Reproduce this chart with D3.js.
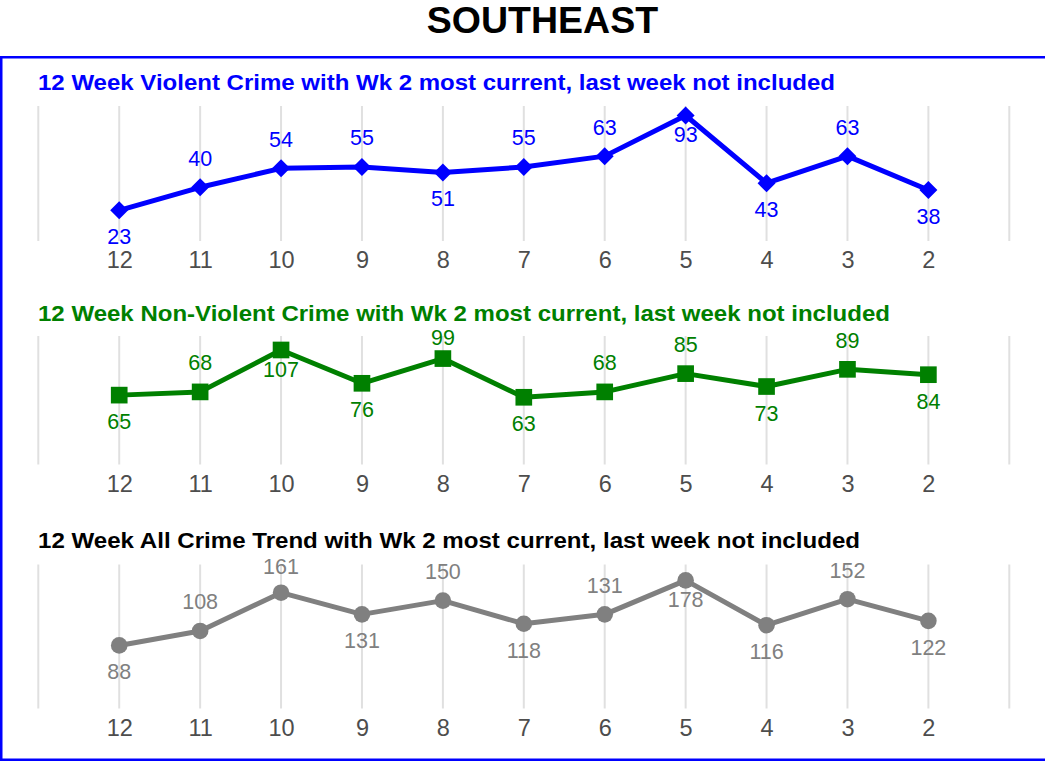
<!DOCTYPE html>
<html>
<head>
<meta charset="utf-8">
<script src="https://cdn.jsdelivr.net/npm/d3@7/dist/d3.min.js"></script>
<style>
  html, body { margin: 0; padding: 0; background: #fff; }
  svg { display: block; font-family: "Liberation Sans", Arial, sans-serif; }
</style>
</head>
<body>
<svg id="chart" width="1045" height="763"></svg>
<script>
const chartTitle = "SOUTHEAST";
const weeks = [12, 11, 10, 9, 8, 7, 6, 5, 4, 3, 2];
const gridWeeks = [13, 12, 11, 10, 9, 8, 7, 6, 5, 4, 3, 2, 1];
const violentTitle = "12 Week Violent Crime with Wk 2 most current, last week not included";
const violent = [23, 40, 54, 55, 51, 55, 63, 93, 43, 63, 38];
const nonViolentTitle = "12 Week Non-Violent Crime with Wk 2 most current, last week not included";
const nonViolent = [65, 68, 107, 76, 99, 63, 68, 85, 73, 89, 84];
const allTitle = "12 Week All Crime Trend with Wk 2 most current, last week not included";
const allCrime = [88, 108, 161, 131, 150, 118, 131, 178, 116, 152, 122];

const svg = d3.select("#chart");

// Title
svg.append("text")
  .attr("x", 542.5).attr("y", 33)
  .attr("text-anchor", "middle")
  .attr("font-weight", "bold")
  .attr("font-size", 37.5)
  .attr("fill", "#000")
  .text(chartTitle);

// Blue frame
svg.append("rect")
  .attr("x", 1.25).attr("y", 57.25)
  .attr("width", 1100).attr("height", 702.5)
  .attr("fill", "none")
  .attr("stroke", "#0000FF")
  .attr("stroke-width", 2.5);

const x = d3.scaleLinear().domain([13, 1]).range([38.3, 1009.3]);

const panels = [
  { title: violentTitle, values: violent, color: "#0000FF", titleColor: "#0000FF", labelColor: "#0000FF",
    shape: "diamond", domain: [0, 100], gridTop: 106, gridBottom: 241, titleY: 90, titleW: 797, tickY: 268.3 },
  { title: nonViolentTitle, values: nonViolent, color: "#008000", titleColor: "#008000", labelColor: "#008000",
    shape: "square", domain: [0, 120], gridTop: 336, gridBottom: 464.5, titleY: 320.7, titleW: 852, tickY: 492.3 },
  { title: allTitle, values: allCrime, color: "#808080", titleColor: "#000000", labelColor: "#808080",
    shape: "circle", domain: [0, 200], gridTop: 564.5, gridBottom: 708.5, titleY: 548.3, titleW: 822, tickY: 736 }
];

panels.forEach(p => {
  const g = svg.append("g");
  const y = d3.scaleLinear().domain(p.domain).range([p.gridBottom + 0.5, p.gridTop]);

  // gridlines
  g.selectAll("line.grid").data(gridWeeks).enter().append("line")
    .attr("x1", d => x(d)).attr("x2", d => x(d))
    .attr("y1", p.gridTop).attr("y2", p.gridBottom)
    .attr("stroke", "#e0e0e0").attr("stroke-width", 2);

  // panel title
  g.append("text")
    .attr("x", 38).attr("y", p.titleY)
    .attr("font-weight", "bold").attr("font-size", 22)
    .attr("textLength", p.titleW).attr("lengthAdjust", "spacingAndGlyphs")
    .attr("fill", p.titleColor)
    .text(p.title);

  // axis tick labels
  const axis = d3.axisBottom(x).tickValues(weeks).tickSize(0).tickPadding(0).tickFormat(d3.format("d"));
  const ax = g.append("g").attr("transform", `translate(0,${p.tickY})`).call(axis);
  ax.select(".domain").remove();
  ax.selectAll("text")
    .attr("dy", 0).attr("y", 0)
    .attr("font-size", 23.5)
    .attr("font-family", "Liberation Sans, Arial, sans-serif")
    .attr("fill", "#4d4d4d");

  const data = weeks.map((w, i) => ({ w, v: p.values[i], prev: i > 0 ? p.values[i - 1] : null }));

  // line
  g.append("path").datum(data)
    .attr("d", d3.line().x(d => x(d.w)).y(d => y(d.v)))
    .attr("fill", "none").attr("stroke", p.color)
    .attr("stroke-width", 5).attr("stroke-linejoin", "round");

  // markers
  const pts = g.selectAll("g.pt").data(data).enter().append("g")
    .attr("transform", d => `translate(${x(d.w)},${y(d.v)})`);
  if (p.shape === "diamond") {
    pts.append("path").attr("d", d3.symbol(d3.symbolSquare, 162)()).attr("transform", "rotate(45)").attr("fill", p.color);
  } else if (p.shape === "square") {
    pts.append("path").attr("d", d3.symbol(d3.symbolSquare, 278)()).attr("fill", p.color);
  } else {
    pts.append("circle").attr("r", 8.3).attr("fill", p.color);
  }

  // value labels: above when rising, below otherwise; kept inside panel
  const topLimit = p.gridTop + 1.5;
  g.selectAll("text.val").data(data).enter().append("text")
    .attr("class", "val")
    .attr("x", d => x(d.w))
    .attr("y", d => {
      const py = y(d.v);
      let c;
      if (d.prev !== null && d.v > d.prev) {
        c = py - 29;
        if (c < topLimit) {
          c = (topLimit > py - 18) ? py + 19.5 : topLimit;
        }
      } else {
        c = py + 26.5;
      }
      return c + 7.5;
    })
    .attr("text-anchor", "middle")
    .attr("font-size", 21.5)
    .attr("fill", p.labelColor)
    .text(d => d.v);
});
</script>
</body>
</html>
